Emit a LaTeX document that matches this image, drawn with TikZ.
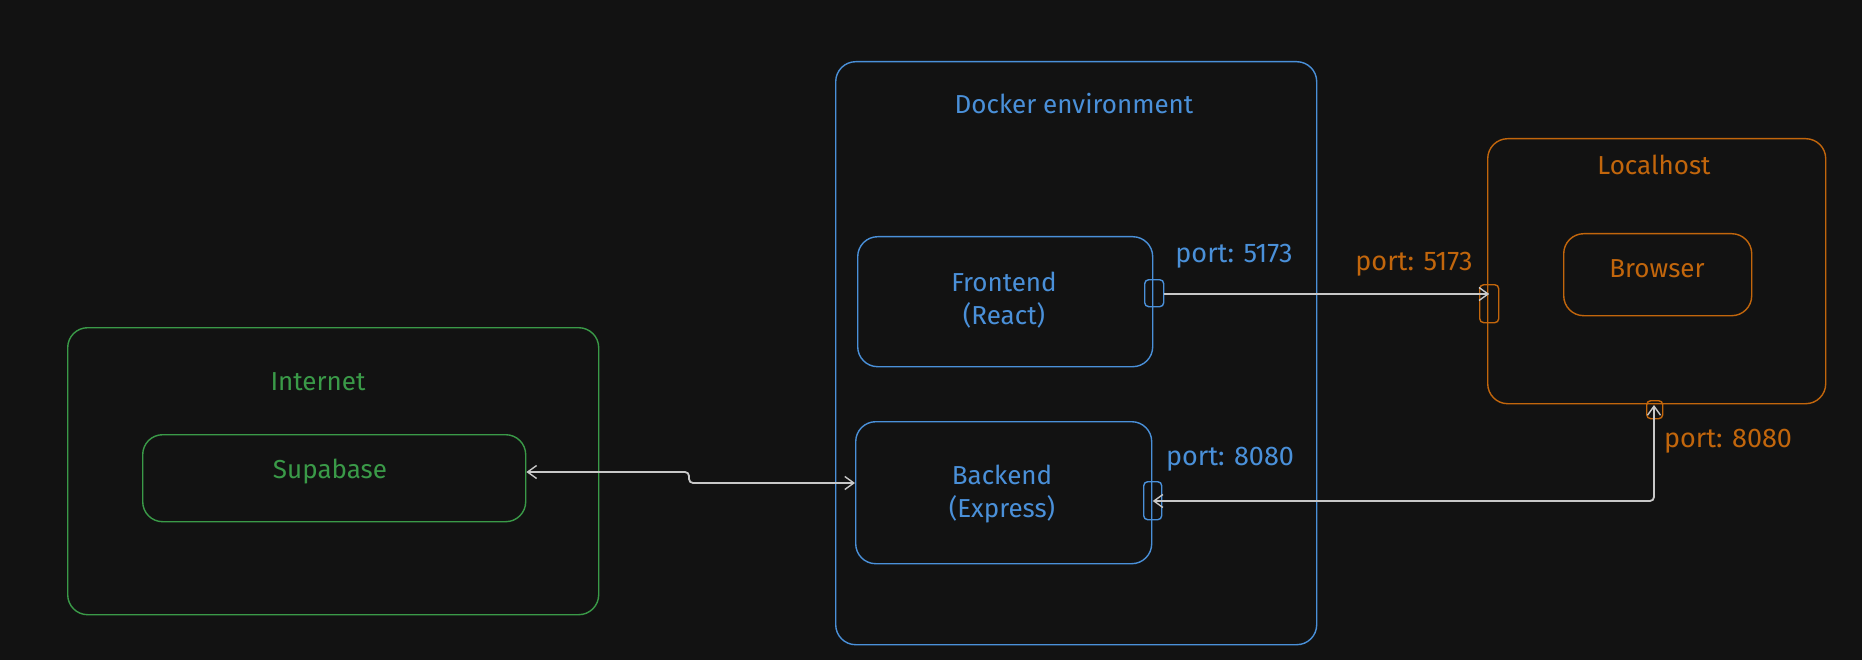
\documentclass[tikz,border=0pt]{standalone}
\usepackage{fontspec}
\setmainfont{Fira Sans}
\usetikzlibrary{arrows.meta,calc}
\definecolor{bg}{HTML}{121212}
\definecolor{cblue}{HTML}{4A90D9}
\definecolor{cgreen}{HTML}{3A9A48}
\definecolor{corange}{HTML}{C2660C}
\definecolor{cgrey}{HTML}{C8C8C8}
\begin{document}
\begin{tikzpicture}[x=1pt,y=-1pt,
  rbox/.style={draw=#1, rounded corners=20pt, line width=1.4pt, anchor=north west, inner sep=0pt},
  pbox/.style={draw=#1, rounded corners=4pt, line width=1.4pt, anchor=north west, inner sep=0pt},
  lbl/.style={text=#1, font=\fontsize{26}{33}\selectfont, align=center, inner sep=0pt},
  plbl/.style={lbl=#1, font=\fontsize{27}{32}\selectfont},
  barb/.tip={Straight Barb[length=9pt,width=13pt,line width=1.4pt]},
  wire/.style={draw=cgrey, line width=1.8pt, rounded corners=4pt},
  conn/.style={wire, barb-barb},
  conn1/.style={wire, -barb}
]
\fill[bg] (0,0) rectangle (1862,660);
\useasboundingbox (0,0) rectangle (1862,660);

% Internet
\node[rbox=cgreen, minimum width=531pt, minimum height=287pt] (inet) at (67,327) {};
\node[lbl=cgreen] (inetl) at (318,382) {Internet};
\node[rbox=cgreen, minimum width=383pt, minimum height=87pt] (supa) at (142,434) {};
\node[lbl=cgreen] (supal) at (330,472) {Supabase};

% Docker
\node[rbox=cblue, minimum width=481pt, minimum height=583pt] (dock) at (835,61) {};
\node[lbl=cblue] (dockl) at (1074,104) {Docker environment};
\node[rbox=cblue, minimum width=295pt, minimum height=130pt] (front) at (857,236) {};
\node[lbl=cblue] (frontl) at (1004,300) {Frontend\\(React)};
\node[rbox=cblue, minimum width=296pt, minimum height=142pt] (back) at (855,421) {};
\node[lbl=cblue] (backl) at (1002,494) {Backend\\(Express)};
\node[pbox=cblue, minimum width=19pt, minimum height=27pt] (fport) at (1144,279) {};
\node[pbox=cblue, minimum width=18pt, minimum height=38pt] (bport) at (1143,481) {};
\node[plbl=cblue] (fportl) at (1234,256) {port: 5173};
\node[plbl=cblue] (bportl) at (1230,459) {port: 8080};

% Localhost
\node[rbox=corange, minimum width=338pt, minimum height=265pt] (local) at (1487,138) {};
\node[lbl=corange] (locall) at (1654,165) {Localhost};
\node[rbox=corange, minimum width=188pt, minimum height=82pt] (brow) at (1563,233) {};
\node[lbl=corange] (browl) at (1657,269) {Browser};
\node[pbox=corange, minimum width=19pt, minimum height=38pt] (lport) at (1479,284) {};
\node[pbox=corange, minimum width=16pt, minimum height=18pt] (dport) at (1646,400) {};
\node[plbl=corange] (lportl) at (1414,264) {port: 5173};
\node[plbl=corange] (dportl) at (1728,441) {port: 8080};

% connectors
\coordinate (j1) at (689,472);
\coordinate (j2) at (689,483);
\draw[conn] (supa.east|-j1) -- (j1) -- (j2) -- (back.west|-j2);

\coordinate (f1) at (1163,294);
\draw[conn1] (fport.east|-f1) -- (lport.center|-f1);

\coordinate (c0) at (1654,405);
\coordinate (c1) at (1654,501);
\draw[conn] (c0) -- (c1) -- (bport.center|-c1);
\end{tikzpicture}
\end{document}
